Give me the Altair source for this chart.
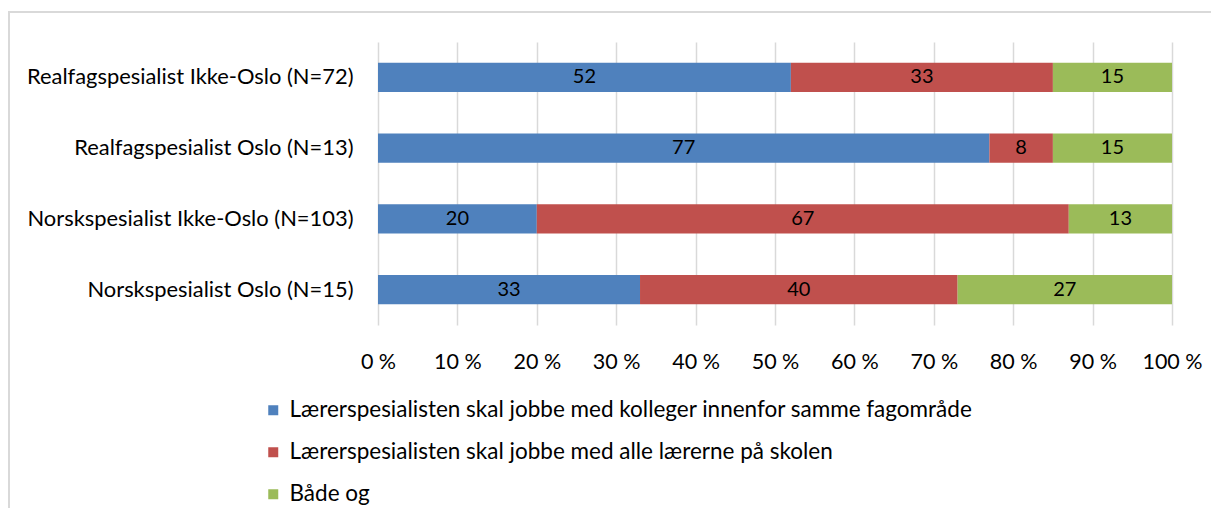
import altair as alt
import pandas as pd

groups = [
    "Realfagspesialist Ikke-Oslo (N=72)",
    "Realfagspesialist Oslo (N=13)",
    "Norskspesialist Ikke-Oslo (N=103)",
    "Norskspesialist Oslo (N=15)",
]
series = [
    "Lærerspesialisten skal jobbe med kolleger innenfor samme fagområde",
    "Lærerspesialisten skal jobbe med alle lærerne på skolen",
    "Både og",
]
colors = ["#4F81BD", "#C0504D", "#9BBB59"]
values = {
    series[0]: [52, 77, 20, 33],
    series[1]: [33, 8, 67, 40],
    series[2]: [15, 15, 13, 27],
}
x_ticks = [0, 10, 20, 30, 40, 50, 60, 70, 80, 90, 100]

rows = []
for si, s in enumerate(series):
    for gi, g in enumerate(groups):
        rows.append({"group": g, "series": s, "order": si, "value": values[s][gi]})
df = pd.DataFrame(rows)

FONT = "Lato"
FS_Y = 21.9
FS_X = 21.5
FS_LEG = 22.5
FS_VAL = 20

W, H = 794, 283
PAD_L, PAD_T, PAD_R, PAD_B = 370, 34, 39, 183

base = alt.Chart(df).transform_stack(
    stack="value", groupby=["group"], sort=[alt.SortField("order")], as_=["v0", "v1"]
).transform_calculate(mid="(datum.v0 + datum.v1) / 2")

yenc = alt.Y(
    "group:N",
    sort=groups,
    title=None,
    scale=alt.Scale(paddingInner=0.59, paddingOuter=0.295),
    axis=alt.Axis(
        labelFont=FONT, labelFontSize=FS_Y, labelColor="#000000", labelPadding=25,
        ticks=False, domain=False, grid=False, labelLimit=600,
    ),
)

bars = base.mark_bar().encode(
    x=alt.X(
        "v0:Q",
        scale=alt.Scale(domain=[0, 100], nice=False),
        title=None,
        axis=alt.Axis(
            values=x_ticks, labelExpr="datum.value + ' %'", labelFlush=False,
            labelFont=FONT, labelFontSize=FS_X, labelColor="#000000", labelPadding=26,
            ticks=False, domain=False, grid=True, gridColor="#d9d9d9", gridWidth=1.5,
        ),
    ),
    x2="v1:Q",
    y=yenc,
    color=alt.Color(
        "series:N",
        sort=series,
        scale=alt.Scale(domain=series, range=colors),
        legend=alt.Legend(
            title=None, orient="none", direction="vertical",
            legendX=-116, legendY=357,
            symbolType="square", symbolSize=100, symbolStrokeWidth=0,
            labelFont=FONT, labelFontSize=FS_LEG, labelColor="#000000",
            labelOffset=5, rowPadding=19, padding=0, labelLimit=900,
        ),
    ),
)

labels = base.mark_text(font=FONT, fontSize=FS_VAL, color="#000000").encode(
    x=alt.X("mid:Q"),
    y=alt.Y("group:N", sort=groups),
    text=alt.Text("value:Q"),
)

frame_df = pd.DataFrame({"a": [0]})
frame_left = alt.Chart(frame_df).mark_rule(color="#d9d9d9", strokeWidth=2).encode(
    x=alt.value(-369), y=alt.value(-30), y2=alt.value(H + PAD_B)
)
frame_top = alt.Chart(frame_df).mark_rule(color="#d9d9d9", strokeWidth=2).encode(
    x=alt.value(-370), x2=alt.value(W + PAD_R), y=alt.value(-30)
)

chart = alt.layer(frame_left, frame_top, bars, labels).properties(
    width=W, height=H,
    autosize=alt.AutoSizeParams(type="none"),
    padding={"left": PAD_L, "top": PAD_T, "right": PAD_R, "bottom": PAD_B},
).configure_view(stroke=None)

chart.save("out.html", embed_options={"renderer": "svg", "actions": False})
